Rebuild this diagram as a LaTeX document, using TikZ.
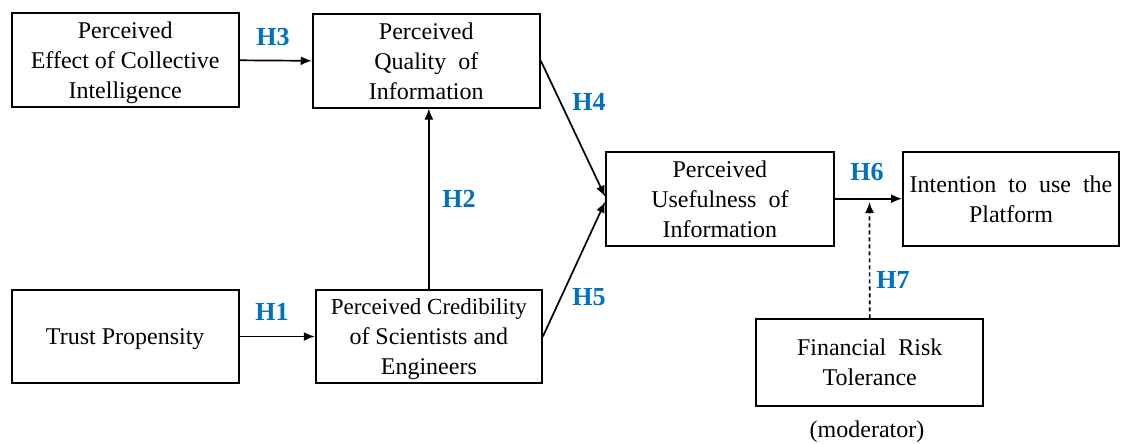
\documentclass[tikz,border=0pt]{standalone}
\usepackage{fontspec}
\setmainfont{Liberation Serif}
\usetikzlibrary{arrows.meta}
\definecolor{hblue}{RGB}{0,112,192}
\tikzset{
  box/.style={draw, line width=1.8pt, inner sep=0pt, align=center, text depth=0pt,
    font=\fontsize{24}{30}\selectfont},
  hlab/.style={text=hblue, inner sep=0pt, font=\fontsize{26}{30}\selectfont\bfseries},
  conn/.style={line width=1.7pt, -{Latex[length=11pt,width=9pt]}},
  modconn/.style={conn, dash pattern=on 4pt off 3pt}
}
\begin{document}
\begin{tikzpicture}[x=1pt,y=-1pt]
\useasboundingbox (0,0) rectangle (1125,444);
\node[box, minimum width=227pt, minimum height=94pt] (b1) at (125.2,60.3) {Perceived\\Effect of Collective\\Intelligence};
\node[box, minimum width=227.3pt, minimum height=93.7pt] (b2) at (426.3,60.8) {Perceived\\Quality\ \ of\\Information};
\node[box, minimum width=227.7pt, minimum height=94pt] (b3) at (719.9,198.7) {Perceived\\Usefulness\ \ of\\Information};
\node[box, minimum width=216pt, minimum height=94pt] (b4) at (1011,198.7) {Intention\ \ to\ \ use\ \ the\\Platform};
\node[box, minimum width=227pt, minimum height=93.6pt] (b5) at (125.2,336.5) {Trust Propensity};
\node[box, minimum width=226.3pt, minimum height=93.6pt] (b6) at (428.85,336.5) {\fontsize{23}{30}\selectfont Perceived Credibility\\of Scientists and\\Engineers};
\node[box, minimum width=227.3pt, minimum height=86.4pt] (b7) at (869.7,362.5) {Financial\ \ Risk\\Tolerance};
\node[font=\fontsize{24}{30}\selectfont, inner sep=0pt] (mod) at (867,432) {(moderator)};

\draw[conn] (b1.east) -- (b2.west);
\draw[conn] (b5.east) -- (b6.west);
\draw[conn] (b6.north) -- (b6.north |- b2.south);
\draw[conn] (b2.east) -- ([yshift=2pt]b3.west);
\draw[conn] (b6.east) -- ([yshift=-3pt]b3.west);
\draw[conn] (b3.east) -- (b4.west);
\coordinate (m) at (869.5,202);
\draw[modconn] (b7.north) -- (m);

\node[hlab] (h3) at (273,37) {H3};
\node[hlab] (h1) at (272,312) {H1};
\node[hlab] (h2) at (459,199) {H2};
\node[hlab] (h4) at (589,102) {H4};
\node[hlab] (h5) at (589,297) {H5};
\node[hlab] (h6) at (867,172) {H6};
\node[hlab] (h7) at (893,280) {H7};
\end{tikzpicture}
\end{document}
